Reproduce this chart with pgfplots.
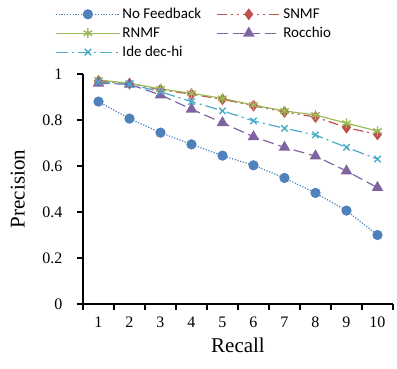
\documentclass[border=0pt]{standalone}
\usepackage{fontspec}
\setmainfont{Liberation Serif}
\newfontfamily\legfont{Carlito}
\usepackage{pgfplots}
\pgfplotsset{compat=1.18}
\definecolor{cNF}{RGB}{79,129,189}
\definecolor{cSN}{RGB}{192,80,77}
\definecolor{cRN}{RGB}{155,187,89}
\definecolor{cRO}{RGB}{128,100,162}
\definecolor{cID}{RGB}{75,172,198}
\begin{document}
\begin{tikzpicture}
\begin{axis}[
  name=ax,
  scale only axis, width=310pt, height=230pt,
  xmin=0.5, xmax=10.5, ymin=0, ymax=1,
  axis x line=bottom, axis y line=left,
  axis line style={-, line width=1.1pt, black},
  xtick={1,...,10},
  major x tick style={draw=none},
  minor xtick={0.5,1.5,...,10.5},
  minor x tick style={line width=1.1pt, black},
  ytick={0,0.2,0.4,0.6,0.8,1},
  yticklabels={0,0.2,0.4,0.6,0.8,1},
  major y tick style={line width=1.1pt, black},
  tick align=outside,
  major tick length=6pt, minor tick length=6pt,
  ticklabel style={font=\rmfamily\fontsize{16}{16}\selectfont},
  xticklabel style={yshift=-3pt},
  yticklabel style={xshift=-11pt},
  /pgf/number format/assume math mode=true,
  xlabel={Recall}, ylabel={Precision},
  label style={font=\rmfamily\fontsize{21}{21}\selectfont},
  xlabel style={at={(axis description cs:0.5,-0.178)}, anchor=center},
  ylabel style={at={(axis description cs:-0.21,0.5)}, anchor=center, rotate=0},
  legend columns=2,
  legend cell align=left,
  legend style={at={(-0.09,1.295)}, anchor=north west, draw=none, fill=none,
    font=\legfont\fontsize{15}{15}\selectfont, row sep=3pt,
    /tikz/every even column/.append style={column sep=13pt},
    inner sep=0pt},
  legend image code/.code={\draw[mark repeat=2,mark phase=2,#1] plot coordinates {(0pt,0pt) (32pt,0pt) (64pt,0pt)};},
  every axis plot/.append style={line width=1.2pt},
]
\addplot[cNF, dash pattern=on 1.2pt off 1.6pt, mark=*, mark size=4.5pt, mark options={solid, fill=cNF}]
 coordinates {(1,0.88) (2,0.806) (3,0.745) (4,0.694) (5,0.645) (6,0.603) (7,0.548) (8,0.483) (9,0.406) (10,0.30)};
\addlegendentry{No Feedback}
\addplot[cSN, dash pattern=on 10pt off 4pt on 2pt off 4pt on 2pt off 4pt, mark=diamond*, mark size=5pt, mark options={solid, fill=cSN}]
 coordinates {(1,0.97) (2,0.958) (3,0.932) (4,0.912) (5,0.89) (6,0.862) (7,0.835) (8,0.813) (9,0.767) (10,0.737)};
\addlegendentry{SNMF}
\addplot[cRN, solid, mark=asterisk, mark size=5pt, mark options={solid, line width=1.4pt}]
 coordinates {(1,0.974) (2,0.96) (3,0.935) (4,0.916) (5,0.894) (6,0.865) (7,0.839) (8,0.822) (9,0.786) (10,0.752)};
\addlegendentry{RNMF}
\addplot[cRO, dash pattern=on 11pt off 5pt, mark=triangle*, mark size=5.5pt, mark options={solid, fill=cRO}]
 coordinates {(1,0.96) (2,0.955) (3,0.909) (4,0.847) (5,0.788) (6,0.727) (7,0.681) (8,0.643) (9,0.578) (10,0.506)};
\addlegendentry{Rocchio}
\addplot[cID, dash pattern=on 12pt off 4pt on 2pt off 4pt, mark=x, mark size=4.5pt, mark options={solid, line width=1.4pt}]
 coordinates {(1,0.965) (2,0.955) (3,0.923) (4,0.88) (5,0.84) (6,0.796) (7,0.764) (8,0.735) (9,0.681) (10,0.630)};
\addlegendentry{Ide dec-hi}
\end{axis}
\pgfresetboundingbox
\path ([xshift=-83pt,yshift=-65pt]ax.south west) rectangle ([xshift=4pt,yshift=74pt]ax.north east);
\end{tikzpicture}
\end{document}
